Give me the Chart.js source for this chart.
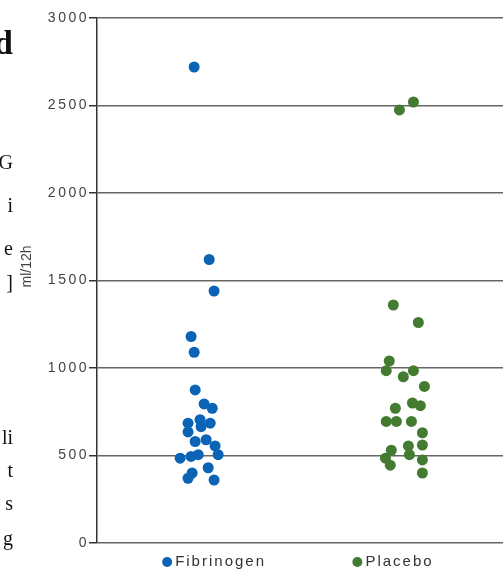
<!DOCTYPE html>
<html>
<head>
<meta charset="utf-8">
<script src="https://cdn.jsdelivr.net/npm/chart.js@4"></script>
<style>
  body { margin: 0; background: #fff; }
  #wrap { position: relative; width: 503px; height: 570px; overflow: hidden; }
  #frag { position: absolute; left: 0; top: 0; width: 13px; height: 570px; overflow: hidden; }
  #frag span { position: absolute; right: 0; font-family: "Liberation Serif", "DejaVu Serif", serif; font-size: 20px; color: #111; line-height: 1; white-space: nowrap; }
</style>
</head>
<body>
<div id="wrap">
  <canvas id="scatter" width="509" height="570"></canvas>
  <div id="frag">
    <span style="top:26px;font-size:34px;font-weight:bold;">d</span>
    <span style="top:152px;">G</span>
    <span style="top:195px;">i</span>
    <span style="top:238px;">e</span>
    <span style="top:272px;">]</span>
    <span style="top:427px;">li</span>
    <span style="top:460px;">t</span>
    <span style="top:493px;">s</span>
    <span style="top:528px;">g</span>
  </div>
</div>

<script>
  const groups = ["Fibrinogen", "Placebo"];
  const groupColors = ["#0b63b6", "#437b31"];
  const yTitle = "ml/12h";

  // x = group position (1 or 2) plus the jitter seen in the picture
  const fibrinogenX = [0.978, 1.052, 1.076, 0.963, 0.978, 0.983, 1.027, 1.067, 0.948, 0.948,
                       1.007, 1.012, 1.057, 0.983, 1.037, 1.081, 1.096, 0.909, 0.963, 0.998,
                       1.047, 0.968, 0.948, 1.076];
  const fibrinogenY = [2720, 1620, 1440, 1180, 1090, 875, 795, 770, 685, 635,
                       705, 665, 685, 580, 590, 555, 505, 485, 495, 505,
                       430, 400, 370, 360];

  const placeboX = [1.988, 2.057, 1.958, 2.081, 1.938, 1.923, 2.007, 2.057, 2.111, 2.052,
                    2.091, 1.968, 1.923, 1.973, 2.047, 2.101, 2.101, 2.032, 1.948, 2.037,
                    1.919, 2.101, 1.943, 2.101];
  const placeboY = [2475, 2520, 1360, 1260, 1040, 985, 950, 985, 895, 800,
                    785, 770, 695, 695, 695, 630, 560, 555, 530, 505,
                    485, 475, 445, 400];

  const yTicks = [0, 500, 1000, 1500, 2000, 2500, 3000];

  function toPoints(xs, ys) {
    return xs.map((x, i) => ({ x: x, y: ys[i] }));
  }

  const spacingPlugin = {
    id: "spacing",
    beforeDraw(chart) {
      chart.ctx.letterSpacing = "2.5px";
    }
  };

  // legend under each group + the rotated axis title (plain spacing)
  const legendPlugin = {
    id: "groupLegend",
    afterDraw(chart) {
      const ctx = chart.ctx;
      const xs = chart.scales.x;
      const ys = chart.scales.y;
      const offsets = [-31.5, -44.5];
      ctx.save();
      ctx.font = "15px 'Liberation Sans', Arial, sans-serif";
      ctx.letterSpacing = "2px";
      ctx.textBaseline = "middle";
      groups.forEach((name, i) => {
        const cx = xs.getPixelForValue(i + 1) + offsets[i];
        ctx.fillStyle = groupColors[i];
        ctx.beginPath();
        ctx.arc(cx, 562, 5, 0, Math.PI * 2);
        ctx.fill();
        ctx.fillStyle = "#333";
        ctx.fillText(name, cx + 8, 562);
      });
      ctx.restore();

      ctx.save();
      ctx.letterSpacing = "0px";
      ctx.font = "14px 'Liberation Sans', Arial, sans-serif";
      ctx.fillStyle = "#444";
      ctx.textAlign = "center";
      ctx.textBaseline = "middle";
      ctx.translate(27, ys.getPixelForValue(1580));
      ctx.rotate(-Math.PI / 2);
      ctx.fillText(yTitle, 0, 0);
      ctx.restore();
    }
  };

  const data = {
    datasets: [{
      label: groups[0],
      data: toPoints(fibrinogenX, fibrinogenY),
      backgroundColor: groupColors[0],
      borderWidth: 0,
      pointRadius: 5.5,
    }, {
      label: groups[1],
      data: toPoints(placeboX, placeboY),
      backgroundColor: groupColors[1],
      borderWidth: 0,
      pointRadius: 5.5,
    }]
  };

  const config = {
    type: "scatter",
    data: data,
    options: {
      responsive: false,
      animation: false,
      events: [],
      layout: { padding: { top: 18, bottom: 27, left: 0, right: 0 } },
      plugins: {
        legend: { display: false },
        tooltip: { enabled: false }
      },
      scales: {
        x: {
          type: "linear",
          min: 0.5,
          max: 2.5,
          display: false
        },
        y: {
          min: 0,
          max: 3000,
          afterBuildTicks(axis) {
            axis.ticks = yTicks.map(v => ({ value: v }));
          },
          afterFit(axis) {
            axis.width = 97;
          },
          border: { color: "#333", width: 1.5 },
          grid: {
            color: "#666",
            lineWidth: 1.5,
            tickLength: 8,
            tickColor: "#333"
          },
          ticks: {
            padding: 0,
            color: "#444",
            font: { family: "'Liberation Sans', Arial, sans-serif", size: 14 },
            callback: v => String(v)
          }
        }
      }
    },
    plugins: [spacingPlugin, legendPlugin]
  };

  const myChart = new Chart(document.getElementById("scatter"), config);
</script>
</body>
</html>
